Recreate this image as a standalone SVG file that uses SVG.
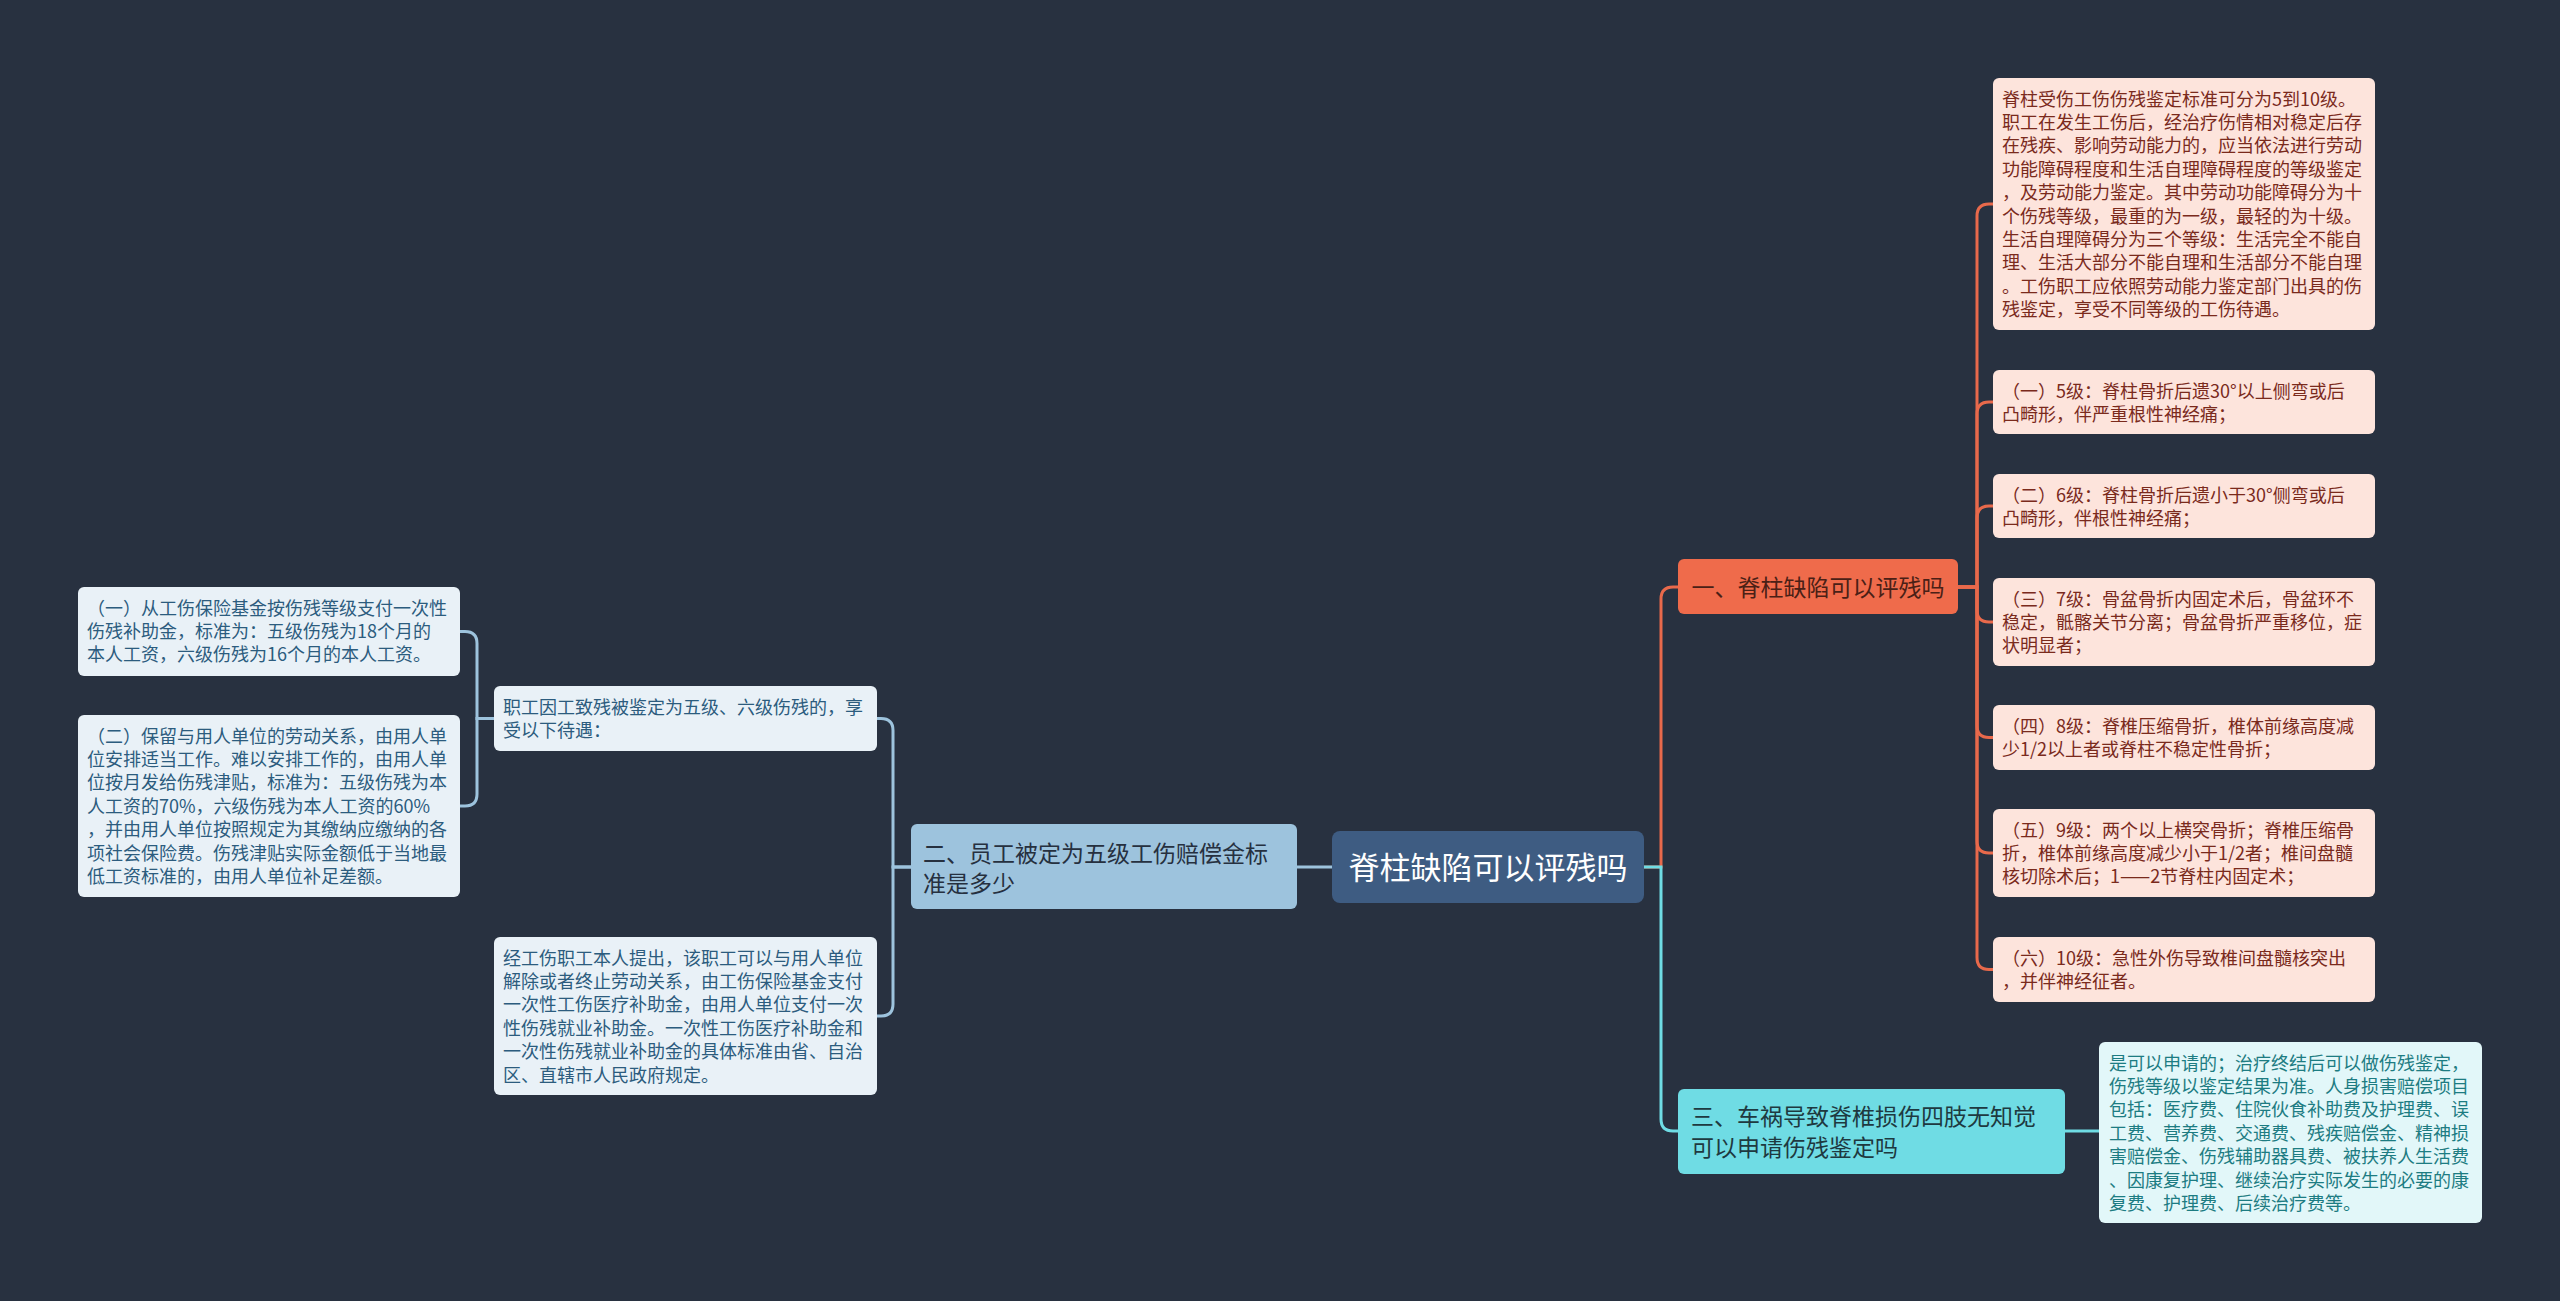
<svg xmlns="http://www.w3.org/2000/svg" width="2560" height="1301" viewBox="0 0 2560 1301">
<style>
text{font-family:"Noto Sans CJK SC","Noto Sans",sans-serif;}
.lf{font-size:18px;}
.pk rect{fill:#fde4dc;}
.pk text{fill:#7a2a1c;}
.cy rect{fill:#e2f7f9;}
.cy text{fill:#1d7c82;}
.bl rect{fill:#e9f1f7;}
.bl text{fill:#2c5c7e;}
.c{fill:none;stroke-width:3;}
.co{stroke:#e8694b;}
.cc{stroke:#6fdce4;}
.cb{stroke:#9dc3dd;}
</style>
<rect width="2560" height="1301" fill="#283140"/>
<g id="connectors">
<path class="c cb" d="M1332 867 H1297"/>
<path class="c co" d="M1644 867 H1661 V599 Q1661 587 1673 587 H1678"/>
<path class="c cc" d="M1644 867 H1661 V1119 Q1661 1131 1673 1131 H1678"/>
<path class="c co" d="M1958 587 H1977 V216 Q1977 204 1989 204 H1993"/>
<path class="c co" d="M1958 587 H1977 V414 Q1977 402 1989 402 H1993"/>
<path class="c co" d="M1958 587 H1977 V518 Q1977 506 1989 506 H1993"/>
<path class="c co" d="M1958 587 H1977 V610 Q1977 622 1989 622 H1993"/>
<path class="c co" d="M1958 587 H1977 V725.5 Q1977 737.5 1989 737.5 H1993"/>
<path class="c co" d="M1958 587 H1977 V841 Q1977 853 1989 853 H1993"/>
<path class="c co" d="M1958 587 H1977 V957.5 Q1977 969.5 1989 969.5 H1993"/>
<path class="c cc" d="M2065 1131 H2099"/>
<path class="c cb" d="M911 867 H893 V730.5 Q893 718.5 881 718.5 H877"/>
<path class="c cb" d="M911 867 H893 V1004 Q893 1016 881 1016 H877"/>
<path class="c cb" d="M494 718.5 H477 V643.5 Q477 631.5 465 631.5 H460"/>
<path class="c cb" d="M494 718.5 H477 V794 Q477 806 465 806 H460"/>
</g>
<g id="root">
<rect x="1332" y="831" width="312" height="72" rx="8" fill="#3e5c82"/>
<text x="1488" y="878.5" font-size="31" fill="#ffffff" text-anchor="middle">脊柱缺陷可以评残吗</text>
</g>
<g id="n1">
<rect x="1678" y="559" width="280" height="55" rx="6" fill="#ef6b4b"/>
<text x="1818" y="595.5" font-size="23" fill="#4a2016" text-anchor="middle">一、脊柱缺陷可以评残吗</text>
</g>
<g id="n2">
<rect x="911" y="824" width="386" height="85" rx="6" fill="#9dc3dd"/>
<text font-size="23" fill="#26303f"><tspan x="923" y="861.5">二、员工被定为五级工伤赔偿金标</tspan><tspan x="923" y="891.5">准是多少</tspan></text>
</g>
<g id="n3">
<rect x="1678" y="1089" width="387" height="85" rx="6" fill="#6fdce4"/>
<text font-size="23" fill="#1e3940"><tspan x="1691" y="1125">三、车祸导致脊椎损伤四肢无知觉</tspan><tspan x="1691" y="1155.5">可以申请伤残鉴定吗</tspan></text>
</g>
<g id="r1" class="pk">
<rect x="1993" y="78" width="382" height="252" rx="6"/>
<text class="lf"><tspan x="2002" y="105.5">脊柱受伤工伤伤残鉴定标准可分为5到10级。</tspan><tspan x="2002" y="128.9">职工在发生工伤后，经治疗伤情相对稳定后存</tspan><tspan x="2002" y="152.3">在残疾、影响劳动能力的，应当依法进行劳动</tspan><tspan x="2002" y="175.7">功能障碍程度和生活自理障碍程度的等级鉴定</tspan><tspan x="2002" y="199.1">，及劳动能力鉴定。其中劳动功能障碍分为十</tspan><tspan x="2002" y="222.5">个伤残等级，最重的为一级，最轻的为十级。</tspan><tspan x="2002" y="245.9">生活自理障碍分为三个等级：生活完全不能自</tspan><tspan x="2002" y="269.3">理、生活大部分不能自理和生活部分不能自理</tspan><tspan x="2002" y="292.7">。工伤职工应依照劳动能力鉴定部门出具的伤</tspan><tspan x="2002" y="316.1">残鉴定，享受不同等级的工伤待遇。</tspan></text>
</g>
<g id="r2" class="pk">
<rect x="1993" y="370" width="382" height="64" rx="6"/>
<text class="lf"><tspan x="2002" y="397.5">（一）5级：脊柱骨折后遗30°以上侧弯或后</tspan><tspan x="2002" y="420.9">凸畸形，伴严重根性神经痛；</tspan></text>
</g>
<g id="r3" class="pk">
<rect x="1993" y="474" width="382" height="64" rx="6"/>
<text class="lf"><tspan x="2002" y="501.5">（二）6级：脊柱骨折后遗小于30°侧弯或后</tspan><tspan x="2002" y="524.9">凸畸形，伴根性神经痛；</tspan></text>
</g>
<g id="r4" class="pk">
<rect x="1993" y="578" width="382" height="88" rx="6"/>
<text class="lf"><tspan x="2002" y="605.5">（三）7级：骨盆骨折内固定术后，骨盆环不</tspan><tspan x="2002" y="628.9">稳定，骶髂关节分离；骨盆骨折严重移位，症</tspan><tspan x="2002" y="652.3">状明显者；</tspan></text>
</g>
<g id="r5" class="pk">
<rect x="1993" y="705" width="382" height="65" rx="6"/>
<text class="lf"><tspan x="2002" y="732.5">（四）8级：脊椎压缩骨折，椎体前缘高度减</tspan><tspan x="2002" y="755.9">少1/2以上者或脊柱不稳定性骨折；</tspan></text>
</g>
<g id="r6" class="pk">
<rect x="1993" y="809" width="382" height="88" rx="6"/>
<text class="lf"><tspan x="2002" y="836.5">（五）9级：两个以上横突骨折；脊椎压缩骨</tspan><tspan x="2002" y="859.9">折，椎体前缘高度减少小于1/2者；椎间盘髓</tspan><tspan x="2002" y="883.3">核切除术后；1——2节脊柱内固定术；</tspan></text>
</g>
<g id="r7" class="pk">
<rect x="1993" y="937" width="382" height="65" rx="6"/>
<text class="lf"><tspan x="2002" y="964.5">（六）10级：急性外伤导致椎间盘髓核突出</tspan><tspan x="2002" y="987.9">，并伴神经征者。</tspan></text>
</g>
<g id="r8" class="cy">
<rect x="2099" y="1042" width="383" height="181" rx="6"/>
<text class="lf"><tspan x="2109" y="1069.5">是可以申请的；治疗终结后可以做伤残鉴定，</tspan><tspan x="2109" y="1092.9">伤残等级以鉴定结果为准。人身损害赔偿项目</tspan><tspan x="2109" y="1116.3">包括：医疗费、住院伙食补助费及护理费、误</tspan><tspan x="2109" y="1139.7">工费、营养费、交通费、残疾赔偿金、精神损</tspan><tspan x="2109" y="1163.1">害赔偿金、伤残辅助器具费、被扶养人生活费</tspan><tspan x="2109" y="1186.5">、因康复护理、继续治疗实际发生的必要的康</tspan><tspan x="2109" y="1209.9">复费、护理费、后续治疗费等。</tspan></text>
</g>
<g id="l1" class="bl">
<rect x="494" y="686" width="383" height="65" rx="6"/>
<text class="lf"><tspan x="503" y="713.5">职工因工致残被鉴定为五级、六级伤残的，享</tspan><tspan x="503" y="736.9">受以下待遇：</tspan></text>
</g>
<g id="l2" class="bl">
<rect x="494" y="937" width="383" height="158" rx="6"/>
<text class="lf"><tspan x="503" y="964.5">经工伤职工本人提出，该职工可以与用人单位</tspan><tspan x="503" y="987.9">解除或者终止劳动关系，由工伤保险基金支付</tspan><tspan x="503" y="1011.3">一次性工伤医疗补助金，由用人单位支付一次</tspan><tspan x="503" y="1034.7">性伤残就业补助金。一次性工伤医疗补助金和</tspan><tspan x="503" y="1058.1">一次性伤残就业补助金的具体标准由省、自治</tspan><tspan x="503" y="1081.5">区、直辖市人民政府规定。</tspan></text>
</g>
<g id="l3" class="bl">
<rect x="78" y="587" width="382" height="89" rx="6"/>
<text class="lf"><tspan x="87" y="614.5">（一）从工伤保险基金按伤残等级支付一次性</tspan><tspan x="87" y="637.9">伤残补助金，标准为：五级伤残为18个月的</tspan><tspan x="87" y="661.3">本人工资，六级伤残为16个月的本人工资。</tspan></text>
</g>
<g id="l4" class="bl">
<rect x="78" y="715" width="382" height="182" rx="6"/>
<text class="lf"><tspan x="87" y="742.5">（二）保留与用人单位的劳动关系，由用人单</tspan><tspan x="87" y="765.9">位安排适当工作。难以安排工作的，由用人单</tspan><tspan x="87" y="789.3">位按月发给伤残津贴，标准为：五级伤残为本</tspan><tspan x="87" y="812.7">人工资的70%，六级伤残为本人工资的60%</tspan><tspan x="87" y="836.1">，并由用人单位按照规定为其缴纳应缴纳的各</tspan><tspan x="87" y="859.5">项社会保险费。伤残津贴实际金额低于当地最</tspan><tspan x="87" y="882.9">低工资标准的，由用人单位补足差额。</tspan></text>
</g>
</svg>
